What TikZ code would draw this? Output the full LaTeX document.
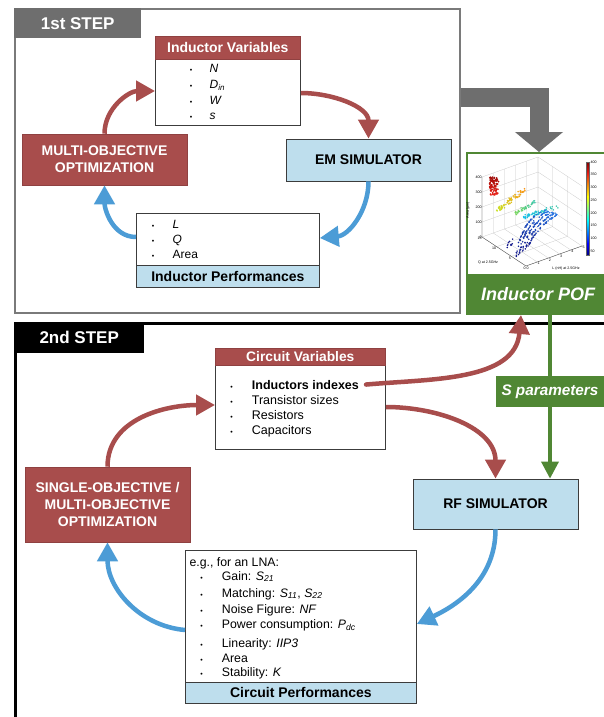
\documentclass[tikz,border=0pt]{standalone}
\usepackage{fontspec}
\setmainfont{Liberation Sans}
\usetikzlibrary{arrows.meta,calc}
\definecolor{cred}{RGB}{168,77,76}
\definecolor{cblue}{RGB}{190,222,237}
\definecolor{cblueline}{RGB}{76,156,214}
\definecolor{cgreen}{RGB}{80,135,52}
\definecolor{cgray}{RGB}{110,110,110}
\definecolor{cgrayline}{RGB}{122,122,122}
\definecolor{cdark}{RGB}{60,60,60}
\definecolor{jdr}{RGB}{128,0,0}
\definecolor{jred}{RGB}{230,30,20}
\definecolor{jorange}{RGB}{250,150,20}
\definecolor{jyg}{RGB}{200,230,40}
\definecolor{jgreen}{RGB}{120,215,90}
\definecolor{jteal}{RGB}{60,200,170}
\definecolor{jcyan}{RGB}{20,190,235}
\definecolor{jlb}{RGB}{40,120,230}
\definecolor{jnavy}{RGB}{20,25,140}
\definecolor{jcbnavy}{RGB}{0,0,128}
\tikzset{
  hdrfont/.style={font=\bfseries\fontsize{14}{16.7}\selectfont},
  redbox/.style={fill=cred, draw=cred!85!black, line width=0.6pt, text=white, hdrfont, align=center, inner sep=0},
  bluebox/.style={fill=cblue, draw=cdark, line width=0.8pt, hdrfont, align=center, inner sep=0},
  whitebox/.style={fill=white, draw=cdark, line width=0.8pt, inner sep=0},
  bul/.style={anchor=base, inner sep=0, font=\fontsize{7}{7}\selectfont},
  itm/.style={anchor=base west, inner sep=0, font=\fontsize{12}{14}\selectfont},
  citm/.style={anchor=base west, inner sep=0, font=\fontsize{12.5}{14}\selectfont},
  pitm/.style={anchor=base west, inner sep=0, font=\fontsize{12.3}{14}\selectfont},
  redarr/.style={draw=cred, line width=4.5pt, -{Triangle[width=20pt,length=19pt]}},
  bluearr/.style={draw=cblueline, line width=4.5pt, -{Triangle[width=20pt,length=19pt]}},
  greenarr/.style={draw=cgreen, line width=3.5pt, -{Triangle[width=17pt,length=17pt]}},
  bigarr/.style={draw=cgray, line width=19pt, -{Triangle[width=47pt,length=20pt]}},
  tabnode/.style={anchor=north west, inner sep=0, text=white, font=\bfseries\fontsize{17}{20}\selectfont},
  gridl/.style={draw=black!22, line width=0.25pt},
  axisl/.style={draw=black!70, line width=0.35pt},
  ticklab/.style={inner sep=0.3pt, font=\fontsize{3.6}{4}\selectfont},
}
\begin{document}
\begin{tikzpicture}[x=1pt,y=-1pt]
\useasboundingbox (0,0) rectangle (604,717);
\clip (0,0) rectangle (604,717);
\fill[white] (0,0) rectangle (604,717);

% ---------- frames ----------
\node[draw=cgrayline, line width=2pt, minimum width=445pt, minimum height=304pt, anchor=north west, inner sep=0] (step1) at (14,8) {};
\node[tabnode, fill=cgray, minimum width=127pt, minimum height=30pt] (tab1) at (14,8) {\raisebox{-1.5pt}{1st STEP}};
\node[draw=black, line width=2.5pt, minimum width=620pt, minimum height=450pt, anchor=north west, inner sep=0] (step2) at (14,322) {};
\node[tabnode, fill=black, minimum width=130pt, minimum height=31pt] (tab2) at (14,322) {\raisebox{-1pt}{2nd STEP}};

% ---------- big gray arrow and POF box ----------
\node[draw=cgreen, line width=2pt, fill=white, anchor=north west, minimum width=144pt, minimum height=161pt, inner sep=0] (pof) at (466,152) {};
\draw[bigarr] (step1.east |- 0,97.5) -| (pof.north);
\node[fill=cgreen, anchor=north west, minimum width=144pt, minimum height=39pt, inner sep=0, text=white, font=\bfseries\itshape\fontsize{18}{20}\selectfont] (pofbar) at (466,274) {Inductor POF};

% ---------- 3D scatter plot ----------
\begin{scope}[shift={(526,266)}, x={(11.2pt,4pt)}, y={(-2.933pt,1.933pt)}, z={(0pt,15pt)}]
  \foreach \l in {0,...,5} \draw[gridl] (\l,0,0) -- (\l,15,0) -- (\l,15,4);
  \foreach \q in {0,5,10,15} \draw[gridl] (0,\q,0) -- (5,\q,0) -- (5,\q,4);
  \foreach \a in {1,...,4} \draw[gridl] (0,15,\a) -- (5,15,\a) -- (5,0,\a);
  \draw[axisl] (5,0,0) -- (0,0,0) -- (0,15,0) -- (0,15,4);
  \foreach \l in {0,...,5} \node[ticklab, anchor=north west] (lt\l) at (\l,0,0) {\l};
  \foreach \q in {0,5,10,15} \node[ticklab, anchor=north east] (qt\q) at (0,\q,0) {\q};
  \foreach \a/\v in {0/0,1/100,2/200,3/300,4/400} \node[ticklab, anchor=east] (at\a) at (0,15,\a) {\v};
\end{scope}
\node[ticklab] (qlab) at (488,263) {Q at 2.5GHz};
\node[ticklab] (llab) at (566,268.5) {L (nH) at 2.5GHz};
\node[ticklab, rotate=90] (alab) at (468,210) {Area (µm)};

\pgfmathsetseed{42}
\foreach \i in {1,...,90}{
  \pgfmathsetmacro\px{494+4.5*rand}
  \pgfmathsetmacro\py{186+9*rand}
  \pgfmathsetmacro\m{max(0,min(100,50+50*(\py-182)/12))}
  \fill[jred!\m!jdr] (\px,\py) circle (0.95pt);
}
\foreach \i in {1,...,70}{
  \pgfmathsetmacro\t{rnd}
  \pgfmathsetmacro\px{497+27*\t+2*rand}
  \pgfmathsetmacro\py{211-21*\t+2*rand}
  \pgfmathsetmacro\m{100*\t}
  \fill[jorange!\m!jyg] (\px,\py) circle (0.9pt);
}
\foreach \i in {1,...,40}{
  \pgfmathsetmacro\t{rnd}
  \pgfmathsetmacro\px{516+18*\t+1.8*rand}
  \pgfmathsetmacro\py{213-11*\t+1.8*rand}
  \pgfmathsetmacro\m{100*\t}
  \fill[jteal!\m!jgreen] (\px,\py) circle (0.85pt);
}
\foreach \i in {1,...,60}{
  \pgfmathsetmacro\t{rnd}
  \pgfmathsetmacro\px{523+34*\t+2*rand}
  \pgfmathsetmacro\py{217-10*\t+2*rand}
  \pgfmathsetmacro\m{100*\t}
  \fill[jteal!\m!jcyan] (\px,\py) circle (0.85pt);
}
\foreach \k in {0,...,4}{
  \foreach \i in {1,...,45}{
    \pgfmathsetmacro\t{rnd}
    \pgfmathsetmacro\px{(1-\t)^2*(516+3*\k)+2*(1-\t)*\t*(521+4*\k)+\t^2*(546+3*\k)+0.6*rand}
    \pgfmathsetmacro\py{(1-\t)^2*(258-3*\k)+2*(1-\t)*\t*(219+2*\k)+\t^2*(210+\k)+0.6*rand}
    \pgfmathsetmacro\m{100*\t}
    \fill[jlb!\m!jnavy] (\px,\py) circle (0.85pt);
  }
}
\foreach \i in {1,...,10}{
  \pgfmathsetmacro\px{511+4*rand}
  \pgfmathsetmacro\py{243+6*rand}
  \fill[jnavy] (\px,\py) circle (0.85pt);
}
% colorbar
\shade[top color=jdr, bottom color=jred] (586,162) rectangle (589,174);
\shade[top color=jred, bottom color=yellow] (586,173.6) rectangle (589,197.2);
\shade[top color=yellow, bottom color=cyan] (586,196.9) rectangle (589,220.4);
\shade[top color=cyan, bottom color=blue] (586,220.1) rectangle (589,243.7);
\shade[top color=blue, bottom color=jcbnavy] (586,243.4) rectangle (589,255);
\draw[black!60, line width=0.2pt] (586,162) rectangle (589,255);
\foreach \v [count=\i] in {400,350,...,50} \node[ticklab, anchor=west] (cb\i) at (590,{162+12.7*(\i-1)}) {\v};

% ---------- STEP 1 boxes ----------
\node[whitebox, anchor=north west, minimum width=145pt, minimum height=89pt] (iv) at (155,36) {};
\node[redbox, anchor=north west, minimum width=145pt, minimum height=23pt] (ivh) at (155,36) {Inductor Variables};
\foreach \yy/\tx [count=\i] in {73/{\textit{N}}, 88.5/{\textit{D}\textsubscript{\textit{in}}}, 104/{\textit{W}}, 119.5/{\textit{s}}}{
  \node[bul] (ivb\i) at (191,\yy) {•};
  \node[itm] (iv\i) at (209.5,\yy) {\tx};
}
\node[redbox, minimum width=165pt, minimum height=51pt] (opt1) at (104.5,159.5) {MULTI-OBJECTIVE\\OPTIMIZATION};
\node[bluebox, minimum width=165pt, minimum height=42pt] (em) at (368.5,160) {EM SIMULATOR};
\node[whitebox, anchor=north west, minimum width=183pt, minimum height=74pt] (ip) at (136,213) {};
\node[bluebox, anchor=north west, minimum width=183pt, minimum height=22pt] (iph) at (136,265) {Inductor Performances};
\foreach \yy/\tx [count=\i] in {228/{\textit{L}}, 243/{\textit{Q}}, 258/{Area}}{
  \node[bul] (ipb\i) at (153,\yy) {•};
  \node[itm] (ip\i) at (172.5,\yy) {\tx};
}

% ---------- STEP 2 boxes ----------
\node[whitebox, anchor=north west, minimum width=170pt, minimum height=101pt] (cv) at (215,348) {};
\node[redbox, anchor=north west, minimum width=170pt, minimum height=17pt, font=\bfseries\fontsize{13.8}{15}\selectfont] (cvh) at (215,348) {Circuit Variables};
\foreach \yy/\tx [count=\i] in {389/{\textbf{Inductors indexes}}, 404.2/{Transistor sizes}, 419.4/{Resistors}, 434.6/{Capacitors}}{
  \node[bul] (cvb\i) at (231.7,\yy) {•};
  \node[citm] (cv\i) at (251.7,\yy) {\tx};
}
\node[redbox, minimum width=165pt, minimum height=75pt] (opt2) at (107.5,504.5) {SINGLE-OBJECTIVE /\\MULTI-OBJECTIVE\\OPTIMIZATION};
\node[bluebox, minimum width=165pt, minimum height=50pt] (rf) at (495.5,504) {RF SIMULATOR};
\node[whitebox, anchor=north west, minimum width=231pt, minimum height=153pt] (cp) at (185,550) {};
\node[bluebox, anchor=north west, minimum width=231pt, minimum height=21pt] (cph) at (185,682) {Circuit Performances};
\node[pitm] (cp0) at (189.3,566) {e.g., for an LNA:};
\foreach \yy/\tx [count=\i] in {580/{Gain: \textit{S}\textsubscript{\textit{21}}},
  597/{Matching: \textit{S}\textsubscript{\textit{11}}, \textit{S}\textsubscript{\textit{22}}},
  613/{Noise Figure: \textit{NF}},
  628/{Power consumption: \textit{P}\textsubscript{\textit{dc}}},
  647/{Linearity: \textit{IIP3}},
  662/{Area},
  676/{Stability: \textit{K}}}{
  \node[bul] (cpb\i) at (201.7,\yy) {•};
  \node[pitm] (cp\i) at (221.7,\yy) {\tx};
}

% ---------- connectors STEP 1 ----------
\draw[redarr] ($(iv.north east)+(0,57)$) to[out=0,in=90] (em.north);
\draw[bluearr] (em.south) to[out=-90,in=5] ($(ip.north east)+(0,25)$);
\draw[bluearr] ($(ip.north west)+(0,24)$) to[out=180,in=-90] (opt1.south);
\draw[redarr] (opt1.north) to[out=90,in=180] ($(iv.north west)+(0,55)$);

% ---------- connectors STEP 2 ----------
\draw[redarr, line cap=round] ($(cv1.east)+(7,0)$) to[out=5,in=-95] ($(pof.south)+(-18,0)$);
\draw[redarr] ($(cv.north east)+(0,59)$) to[out=0,in=90] (rf.north);
\draw[redarr] (opt2.north) to[out=90,in=180] ($(cv.north west)+(0,57)$);
\draw[bluearr] (rf.south) to[out=-90,in=25] ($(cp.north east)+(0,74)$);
\draw[bluearr] ($(cp.north west)+(0,80)$) to[out=175,in=-90] (opt2.south);
\node[inner sep=0, minimum width=108pt, minimum height=31pt] (sp) at (550,391.5) {};
\draw[greenarr] (pof.south -| sp.center) -- (rf.north -| sp.center);
\node[fill=cgreen, minimum width=108pt, minimum height=31pt, inner sep=0, text=white, font=\bfseries\itshape\fontsize{15.3}{17}\selectfont] (splab) at (sp) {S parameters};
\end{tikzpicture}
\end{document}
